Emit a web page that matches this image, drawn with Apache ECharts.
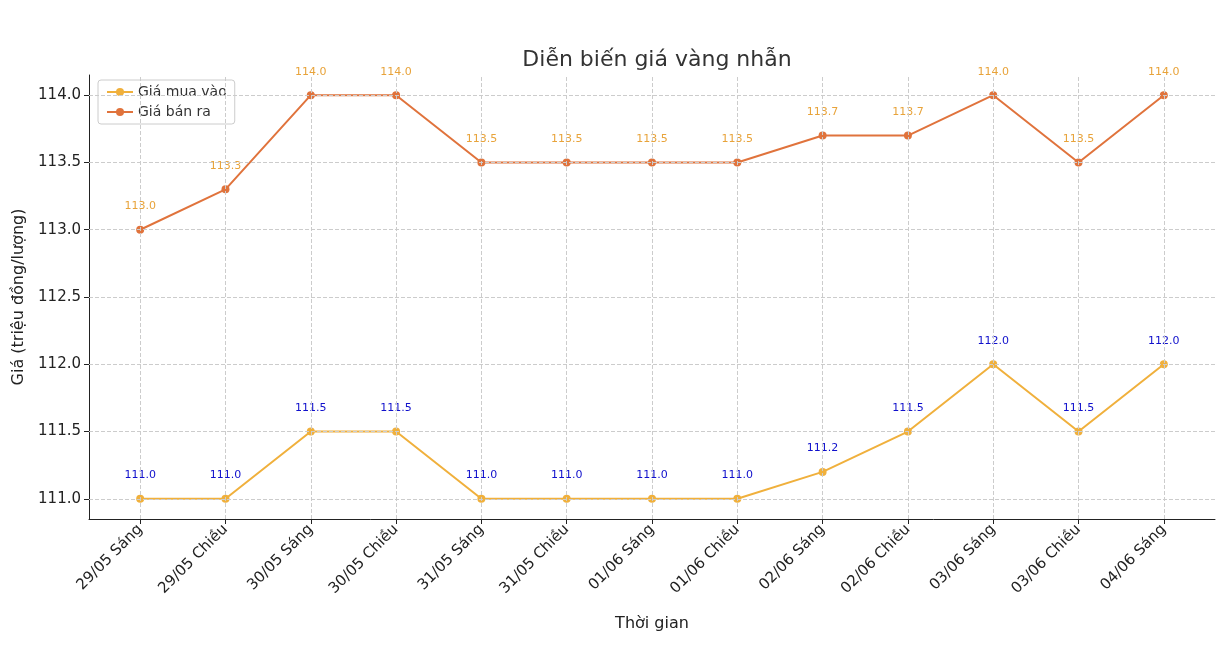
<!DOCTYPE html>
<html><head><meta charset="utf-8">
<script src="https://cdn.jsdelivr.net/npm/echarts@6/dist/echarts.min.js"></script>
<style>html,body{margin:0;background:#fff}#c{width:1216px;height:658px}</style>
</head><body><div id="c"></div>
<script>
const categories = ['29/05 Sáng','29/05 Chiều','30/05 Sáng','30/05 Chiều','31/05 Sáng','31/05 Chiều','01/06 Sáng','01/06 Chiều','02/06 Sáng','02/06 Chiều','03/06 Sáng','03/06 Chiều','04/06 Sáng'];
const buyPrices = [111.0,111.0,111.5,111.5,111.0,111.0,111.0,111.0,111.2,111.5,112.0,111.5,112.0];
const sellPrices = [113.0,113.3,114.0,114.0,113.5,113.5,113.5,113.5,113.7,113.7,114.0,113.5,114.0];
const yTicks = [111.0,111.5,112.0,112.5,113.0,113.5,114.0];
const xTicks = categories.map((c,i)=>i);

const chart = echarts.init(document.getElementById('c'));
const font = 'DejaVu Sans';
function series(name, data, color, labelColor) {
  return {
    name, type:'line', z:3, data: data.map((v,i)=>[i,v]),
    symbol:'circle', symbolSize:8, itemStyle:{color}, lineStyle:{color,width:2},
    label:{show:true,position:'top',distance:14,color:labelColor,fontSize:11,fontFamily:font,
      formatter:p=>p.value[1].toFixed(1)}
  };
}
chart.setOption({
  animation:false,
  textStyle:{fontFamily:font},
  title:{text:'Diễn biến giá vàng nhẫn',left:652,top:44,textAlign:'center',
    textStyle:{fontSize:22,fontWeight:'normal',color:'#333',fontFamily:font}},
  legend:{left:98,top:80,orient:'vertical',itemGap:6,
    itemWidth:26,itemHeight:10,borderColor:'#ccc',borderWidth:1,borderRadius:3,padding:[5,8],
    backgroundColor:'#fff',
    textStyle:{fontSize:14,color:'#333'},data:['Giá mua vào','Giá bán ra']},
  grid:{left:89,right:1,top:75,bottom:139},
  xAxis:{type:'value',min:-0.6,max:12.6,
    name:'Thời gian',nameLocation:'middle',nameGap:97,nameTextStyle:{fontSize:16,color:'#222'},
    axisLine:{show:true,onZero:false,lineStyle:{color:'#222'}},
    axisTick:{show:true,customValues:xTicks,lineStyle:{color:'#222'}},
    splitLine:{show:false},
    axisLabel:{rotate:45,fontSize:15,color:'#222',customValues:xTicks,
      formatter:v=>categories[Math.round(v)]||''},
  },
  yAxis:{type:'value',min:110.85,max:114.15,
    name:'Giá (triệu đồng/lượng)',nameLocation:'middle',nameGap:62,nameTextStyle:{fontSize:16,color:'#222'},
    axisLine:{show:true,onZero:false,lineStyle:{color:'#222'}},
    splitLine:{show:false},
    axisLabel:{fontSize:15,color:'#222',customValues:yTicks,formatter:v=>v.toFixed(1)},
    axisTick:{show:true,customValues:yTicks,lineStyle:{color:'#222'}}
  },
  series:[
    {type:'line',z:0,data:[],markLine:{silent:true,symbol:'none',label:{show:false},
      lineStyle:{color:'#cccccc',type:'dashed',width:1},
      data:yTicks.map(v=>({yAxis:v})).concat(xTicks.map(v=>({xAxis:v})))}},
    series('Giá mua vào',buyPrices,'#f0b03c','#1010cc'),
    series('Giá bán ra',sellPrices,'#e0733c','#e8a33a')
  ]
});
</script></body></html>
